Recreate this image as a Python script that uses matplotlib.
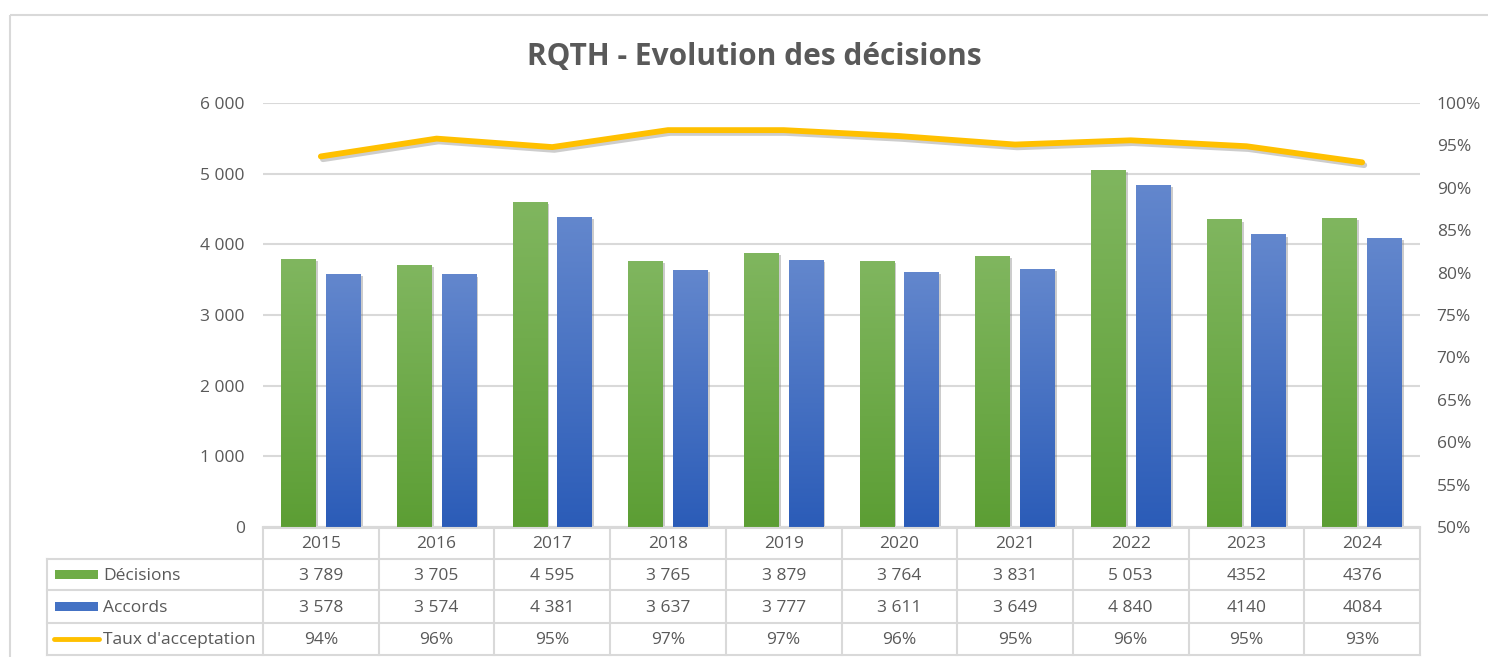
import numpy as np
import matplotlib
matplotlib.use("Agg")
from matplotlib import pyplot as plt
from matplotlib import patheffects as pe
from matplotlib.colors import LinearSegmentedColormap
from matplotlib.patches import Rectangle
from matplotlib.lines import Line2D

plt.rcParams['font.family'] = ['Open Sans', 'DejaVu Sans']

years = ['2015', '2016', '2017', '2018', '2019', '2020', '2021', '2022', '2023', '2024']
decisions = [3789, 3705, 4595, 3765, 3879, 3764, 3831, 5053, 4352, 4376]
accords = [3578, 3574, 4381, 3637, 3777, 3611, 3649, 4840, 4140, 4084]
# acceptance rate as drawn by the line
taux = [0.937, 0.958, 0.948, 0.968, 0.968, 0.961, 0.951, 0.956, 0.949, 0.930]

decisions_txt = ['3 789', '3 705', '4 595', '3 765', '3 879', '3 764', '3 831', '5 053', '4352', '4376']
accords_txt = ['3 578', '3 574', '4 381', '3 637', '3 777', '3 611', '3 649', '4 840', '4140', '4084']
taux_txt = ['94%', '96%', '95%', '97%', '97%', '96%', '95%', '96%', '95%', '93%']

GRAY = '#595959'
GRID = '#d9d9d9'
W, H = 1488, 657


def fx(px):
    return px / W


def fy(py):
    return 1 - py / H


fig = plt.figure(figsize=(14.88, 6.57), dpi=100)

# outer frame of the chart
fig.add_artist(Rectangle((fx(10), fy(15)), 1.2, -1.2, transform=fig.transFigure,
                         fill=False, edgecolor=GRID, linewidth=1.5))

fig.text(fx(754), fy(57), 'RQTH - Evolution des décisions', ha='center', va='center',
         fontsize=21.5, fontweight='bold', color=GRAY)

ax = fig.add_axes([fx(263), fy(527), fx(1420) - fx(263), fy(103) - fy(527)])
x = np.arange(len(years))
bw = 0.30
off = 0.193

green_cmap = LinearSegmentedColormap.from_list('g', ['#5c9e34', '#80b65f'])
blue_cmap = LinearSegmentedColormap.from_list('b', ['#2b5cb8', '#6387cd'])
grad = np.linspace(0, 1, 256).reshape(-1, 1)

for vals, dx, col, cm in [(decisions, -off, '#6fac47', green_cmap),
                          (accords, off, '#4472c4', blue_cmap)]:
    bars = ax.bar(x + dx, vals, width=bw, color=col, zorder=2,
                  path_effects=[pe.SimplePatchShadow(offset=(1.5, -1.5), shadow_rgbFace='#808080', alpha=0.4),
                                pe.Normal()])
    for b in bars:
        im = ax.imshow(grad, cmap=cm, origin='lower', aspect='auto', zorder=3,
                       extent=[b.get_x(), b.get_x() + b.get_width(), 0, b.get_height()])
        im.set_clip_path(b)

ax.set_xlim(-0.5, len(years) - 0.5)
ax.set_ylim(0, 6000)
ax.set_yticks(np.arange(0, 6001, 1000))
ax.set_yticklabels(['{:,}'.format(v).replace(',', ' ') for v in range(0, 6001, 1000)])
ax.yaxis.grid(True, color=GRID, linewidth=1.5, zorder=0)
ax.set_axisbelow(True)
ax.set_xticks([])
ax.tick_params(axis='y', length=0, pad=13, labelsize=12.5, labelcolor=GRAY)
for s in ['left', 'right', 'top']:
    ax.spines[s].set_visible(False)
ax.spines['bottom'].set_color(GRID)
ax.spines['bottom'].set_linewidth(1.5)

ax2 = ax.twinx()
ax2.plot(x, taux, color='#ffc000', linewidth=4.2, solid_capstyle='round', solid_joinstyle='round', zorder=5,
         path_effects=[pe.SimpleLineShadow(offset=(1.5, -2), shadow_color='#707070', alpha=0.35),
                       pe.Normal()])
ax2.set_ylim(0.5, 1.0)
ax2.set_yticks(np.arange(0.5, 1.001, 0.05))
ax2.set_yticklabels(['{:.0f}%'.format(v * 100) for v in np.arange(0.5, 1.001, 0.05)])
ax2.tick_params(axis='y', length=0, pad=12, labelsize=12.5, labelcolor=GRAY)
for s in ['left', 'right', 'top', 'bottom']:
    ax2.spines[s].set_visible(False)

# data table under the chart
rows = [528, 559, 590, 623, 655]
left_px = 47
tab = fig.add_axes([fx(left_px), fy(rows[-1]), fx(1420) - fx(left_px), fy(rows[0]) - fy(rows[-1])])
cat_px = (1420 - 263) / len(years)
tab.set_xlim(-0.5 - (263 - left_px) / cat_px, len(years) - 0.5)
tab.set_ylim(rows[-1], rows[0])
tab.axis('off')

lw = 1.5
# horizontal lines
for i, r in enumerate(rows):
    x0 = -0.5 if i == 0 else tab.get_xlim()[0]
    tab.plot([x0, len(years) - 0.5], [r, r], color=GRID, lw=lw, clip_on=False)
# vertical lines
for k in range(len(years) + 1):
    tab.plot([k - 0.5, k - 0.5], [rows[0], rows[-1]], color=GRID, lw=lw, clip_on=False)
tab.plot([tab.get_xlim()[0]] * 2, [rows[1], rows[-1]], color=GRID, lw=lw, clip_on=False)

fs = 12.5
for k, yr in enumerate(years):
    tab.text(k, (rows[0] + rows[1]) / 2 + 1, yr, ha='center', va='center', fontsize=fs, color=GRAY)

row_data = [('Décisions', decisions_txt), ('Accords', accords_txt), ("Taux d'acceptation", taux_txt)]
x_left = tab.get_xlim()[0]
for i, (name, texts) in enumerate(row_data):
    yc = (rows[i + 1] + rows[i + 2]) / 2
    for k, t in enumerate(texts):
        tab.text(k, yc + 1, t, ha='center', va='center', fontsize=fs, color=GRAY)
    tab.text(x_left + 56 / cat_px, yc + 1, name, ha='left', va='center', fontsize=fs, color=GRAY)

# legend keys in the table
kx0 = x_left + 8 / cat_px
kw = 43 / cat_px
for i, col in enumerate(['#6fac47', '#4472c4']):
    yc = (rows[i + 1] + rows[i + 2]) / 2
    tab.add_patch(Rectangle((kx0, yc - 4.5), kw, 9, facecolor=col, edgecolor='none'))
yc = (rows[3] + rows[4]) / 2
tab.add_line(Line2D([x_left + 7 / cat_px, x_left + 52 / cat_px], [yc, yc], color='#ffc000',
                    lw=3.5, solid_capstyle='round'))

fig.savefig('out.png', dpi=100)
